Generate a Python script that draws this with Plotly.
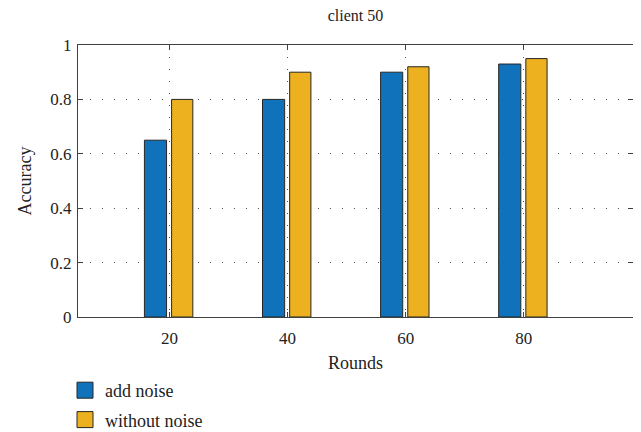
import plotly.graph_objects as go

rounds = [20, 40, 60, 80]
add_noise = [0.65, 0.80, 0.90, 0.93]
without_noise = [0.80, 0.90, 0.92, 0.95]
y_ticks = [0, 0.2, 0.4, 0.6, 0.8, 1]
y_tick_labels = ["0", "0.2", "0.4", "0.6", "0.8", "1"]
series_names = ["add noise", "without noise"]
series_colors = ["#0F72BA", "#EDB120"]

FONT = "Liberation Serif"
EDGE = "#262626"
fig = go.Figure()
fig.add_trace(go.Bar(x=rounds, y=add_noise, name=series_names[0], showlegend=False,
                     marker=dict(color=series_colors[0], line=dict(color=EDGE, width=1)),
                     offset=-4.25, width=3.75))
fig.add_trace(go.Bar(x=rounds, y=without_noise, name=series_names[1], showlegend=False,
                     marker=dict(color=series_colors[1], line=dict(color=EDGE, width=1)),
                     offset=0.35, width=3.6))
# legend entries with larger square swatches
for i, (nm, col) in enumerate(zip(series_names, series_colors)):
    fig.add_trace(go.Scatter(x=[None], y=[None], mode="markers", name=nm,
                             legendgroup=f"g{i}",
                             marker=dict(symbol="square", size=17, color=col,
                                         line=dict(color=EDGE, width=1))))

axis_common = dict(showline=True, linecolor="#404040", linewidth=1, mirror="ticks",
                   ticks="inside", ticklen=5, tickcolor="#404040",
                   showgrid=True, gridcolor="#555555", gridwidth=1, griddash="1px,11px",
                   zeroline=False, automargin=False,
                   tickfont=dict(family=FONT, size=17, color="#222"))
W, H = 633, 460
T, L, R = 37, 70, 8
PH = 272
B = H - T - PH
PW = W - L - R
fig.update_layout(
    font=dict(family=FONT, size=17, color="#222"),
    barmode="overlay",
    width=W, height=H,
    margin=dict(l=L, r=R, t=T, b=B),
    paper_bgcolor="white", plot_bgcolor="white",
    title=dict(text="client 50", x=0.5, xref="paper", xanchor="center",
               y=1.0 - 2 / H, yref="container", yanchor="top",
               font=dict(family=FONT, size=16, color="#222")),
    xaxis=dict(range=[4.5, 98.5], tickvals=rounds, ticklabelstandoff=6, **axis_common,
               title=dict(text="Rounds", font=dict(family=FONT, size=18, color="#222"), standoff=8)),
    yaxis=dict(range=[0, 1], tickvals=y_ticks, ticktext=y_tick_labels, ticklabelstandoff=2,
               **axis_common,
               title=dict(text="Accuracy", font=dict(family=FONT, size=18, color="#222"), standoff=14)),
    showlegend=True,
    legend=dict(x=(57 - L) / PW, xanchor="left",
                y=-(364 - (T + PH)) / PH, yanchor="top", orientation="v",
                font=dict(family=FONT, size=18, color="#222"), bgcolor="rgba(0,0,0,0)",
                tracegroupgap=3, itemsizing="trace"),
)
fig.write_html("out.html")
